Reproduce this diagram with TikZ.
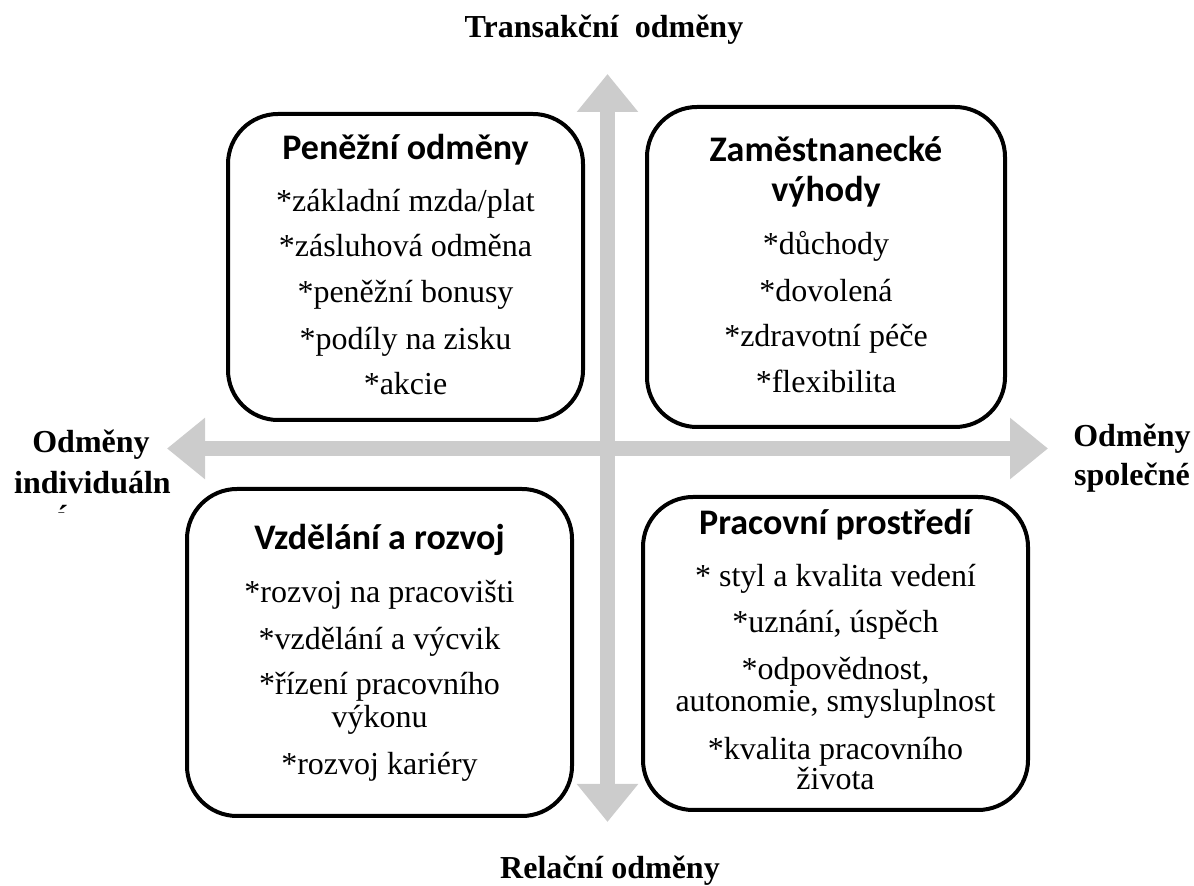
\documentclass[tikz,border=0pt]{standalone}
\usepackage{fontspec}
\setmainfont{Liberation Serif}
\newfontfamily\titlefont{Carlito}
\usetikzlibrary{arrows.meta}

\tikzset{
    quadbox/.style={draw, line width=2pt, rounded corners=25pt, fill=white, inner sep=0pt},
    boxtitle/.style={anchor=base, font=\titlefont\bfseries\fontsize{18}{18}\selectfont},
    item/.style={anchor=base, font=\fontsize{16}{16}\selectfont},
    axislabel/.style={anchor=base, font=\bfseries\fontsize{16}{16}\selectfont},
    axisarrow/.style={line width=7.5pt, draw=gray!40,
        {Triangle[width=29.5pt,length=19pt]}-{Triangle[width=29.5pt,length=19pt]}}
}

\begin{document}
\begin{tikzpicture}[x=0.5pt, y=-0.5pt]

        \useasboundingbox (0,0) rectangle (1194,886);

        % Axes
        \coordinate (ytop) at (607.5,74);
        \coordinate (ybot) at (607.5,822);
        \coordinate (xleft) at (167,448.5);
        \coordinate (xright) at (1048,448.5);
        \draw[axisarrow] (ytop) -- (ybot);
        \draw[axisarrow] (xleft) -- (xright);

        % Axis labels
        \node[axislabel] (transakcni) at (604,38) {Transakční\ \ odměny};
        \node[axislabel] (relacni) at (610,878) {Relační odměny};
        \node[axislabel] (indivA) at (91,453) {Odměny};
        \node[axislabel] (indivB) at (92.5,494) {individuáln};
        \begin{scope}
            \clip (50,504) rectangle (75,513);
            \node[axislabel] (indivC) at (62,528) {í};
        \end{scope}
        \node[axislabel] (spolA) at (1132,447) {Odměny};
        \node[axislabel] (spolB) at (1132,486) {společné};

        % Quadrant boxes
        \node[quadbox, minimum width=177.5pt, minimum height=153pt] (tlbox) at (405.5,267) {};
        \node[quadbox, minimum width=179pt, minimum height=160pt] (trbox) at (826,267) {};
        \node[quadbox, minimum width=192.5pt, minimum height=163.5pt] (blbox) at (379.5,652.5) {};
        \node[quadbox, minimum width=192.5pt, minimum height=156.5pt] (brbox) at (835.5,653.5) {};

        % Top left: money
        \node[boxtitle] (tltitle) at (405.5,160) {Peněžní odměny};
        \foreach \yy/\txt [count=\i] in {212/{*základní mzda/plat}, 257/{*zásluhová odměna},
            303/{*peněžní bonusy}, 350/{*podíly na zisku}, 395/{*akcie}}
            \node[item] (tl\i) at (405.5,\yy) {\txt};

        % Top right: benefits
        \node[boxtitle] (trtitleA) at (826,162) {Zaměstnanecké};
        \node[boxtitle] (trtitleB) at (826,202) {výhody};
        \foreach \yy/\txt [count=\i] in {255/{*důchody}, 302/{*dovolená},
            347/{*zdravotní péče}, 393/{*flexibilita}}
            \node[item] (tr\i) at (826,\yy) {\txt};

        % Bottom left: learning
        \node[boxtitle] (bltitle) at (379.5,550) {Vzdělání a rozvoj};
        \foreach \yy/\txt [count=\i] in {603/{*rozvoj na pracovišti}, 650/{*vzdělání a výcvik},
            695/{*řízení pracovního}, 728/{výkonu}, 775/{*rozvoj kariéry}}
            \node[item] (bl\i) at (379.5,\yy) {\txt};

        % Bottom right: work environment
        \node[boxtitle] (brtitle) at (835.5,535) {Pracovní prostředí};
        \foreach \yy/\txt [count=\i] in {587/{* styl a kvalita vedení}, 633/{*uznání, úspěch},
            680/{*odpovědnost,}, 712/{autonomie, smysluplnost}, 760/{*kvalita pracovního}, 790/{života}}
            \node[item] (br\i) at (835.5,\yy) {\txt};

\end{tikzpicture}
\end{document}
